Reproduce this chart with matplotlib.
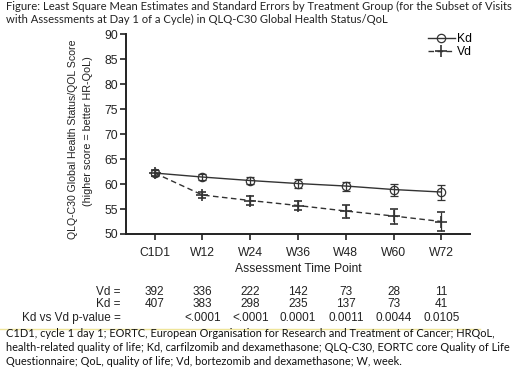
import matplotlib
matplotlib.use("Agg")
import matplotlib.pyplot as plt
from matplotlib.lines import Line2D
import numpy as np

# data
timepoints = ["C1D1", "W12", "W24", "W36", "W48", "W60", "W72"]
kd_mean = [62.2, 61.4, 60.7, 60.1, 59.6, 58.9, 58.4]
kd_se = [0.6, 0.65, 0.75, 0.85, 0.9, 1.2, 1.5]
vd_mean = [62.2, 57.8, 56.7, 55.7, 54.6, 53.6, 52.5]
vd_se = [0.6, 0.6, 0.9, 0.95, 1.3, 1.5, 1.9]
vd_n = ["392", "336", "222", "142", "73", "28", "11"]
kd_n = ["407", "383", "298", "235", "137", "73", "41"]
pvals = ["", "<.0001", "<.0001", "0.0001", "0.0011", "0.0044", "0.0105"]

title = ("Figure: Least Square Mean Estimates and Standard Errors by Treatment Group (for the Subset of Visits\n"
         "with Assessments at Day 1 of a Cycle) in QLQ-C30 Global Health Status/QoL")
footnote = ("C1D1, cycle 1 day 1; EORTC, European Organisation for Research and Treatment of Cancer; HRQoL,\n"
            "health-related quality of life; Kd, carfilzomib and dexamethasone; QLQ-C30, EORTC core Quality of Life\n"
            "Questionnaire; QoL, quality of life; Vd, bortezomib and dexamethasone; W, week.")
ylab1 = "QLQ-C30 Global Health Status/QOL Score"
ylab2 = "(higher score = better HR-QoL)"

plt.rcParams['font.family'] = ['Liberation Sans', 'DejaVu Sans']
col = "#333333"
txt = "#222222"
W, H = 520, 375

fig = plt.figure(figsize=(5.2, 3.75), dpi=100)
ax = fig.add_axes([0.2423, 0.376, 0.6615, 0.533])
x = np.arange(len(timepoints))

kd_style = dict(color=col, lw=1.0, ls='-', marker='o', ms=6, mfc='none', mec=col, mew=0.9)
vd_style = dict(color=col, lw=1.0, ls=(0, (4, 2.5)), marker='+', ms=9, mew=1.2)
ax.errorbar(x, kd_mean, yerr=kd_se, capsize=3, elinewidth=0.9, capthick=0.9, **kd_style)
ax.errorbar(x, vd_mean, yerr=vd_se, capsize=3, elinewidth=0.9, capthick=0.9, **vd_style)

ax.set_xlim(-0.6, 6.6)
ax.set_ylim(50, 90)
ax.set_yticks(range(50, 91, 5))
ax.set_xticks(x)
ax.set_xticklabels(timepoints)
for s in ["top", "right"]:
    ax.spines[s].set_visible(False)
for s in ["left", "bottom"]:
    ax.spines[s].set_linewidth(1.4)
    ax.spines[s].set_color(txt)
ax.tick_params(axis='both', direction='out', length=4, width=1.2, labelsize=8.7, colors=txt, pad=2)
ax.tick_params(axis='x', pad=5)
ax.set_xlabel("Assessment Time Point", fontsize=8.7, color=txt, labelpad=3)

handles = [Line2D([], [], **kd_style), Line2D([], [], **vd_style)]
ax.legend(handles, ["Kd", "Vd"], loc='upper right', bbox_to_anchor=(1.02, 1.03), frameon=False,
          fontsize=8.7, handlelength=2.2, handletextpad=0.2, labelspacing=0.1, borderaxespad=0)

# y label as two rotated lines, sized to the reference's span
renderer = fig.canvas.get_renderer()
for s, cx, cy, span in [(ylab1, 73, 139, 198), (ylab2, 88, 131, 148)]:
    t = fig.text(cx / W, 1 - cy / H, s, rotation=90, ha='center', va='center', fontsize=8.5, color=txt)
    h = t.get_window_extent(renderer).height
    t.set_fontsize(8.5 * span / h)

# at-risk table under the axis
rows = [("Vd =", vd_n, 292), ("Kd =", kd_n, 304), ("Kd vs Vd p-value =", pvals, 318)]
for label, vals, ypix in rows:
    fy = 1 - ypix / H
    fig.text(121 / W, fy, label, ha='right', va='center', fontsize=8.5, color=txt)
    for i, v in enumerate(vals):
        xd = ax.transData.transform((i, 0))[0]
        fx = fig.transFigure.inverted().transform((xd, 0))[0]
        fig.text(fx, fy, v, ha='center', va='center', fontsize=8.5, color=txt)

fig.add_artist(Line2D([0, 480 / W], [1 - 329 / H] * 2, color="#efe59a", lw=1.0,
                      transform=fig.transFigure))

fig.text(0.012, 1 - 1 / H, title, ha='left', va='top', fontsize=8.15, family=['Lato', 'DejaVu Sans'],
         color=txt, linespacing=1.25)
fig.text(0.012, 1 - 328 / H, footnote, ha='left', va='top', fontsize=7.95, family=['Lato', 'DejaVu Sans'],
         color="#111111", linespacing=1.35)

fig.savefig("out.png", dpi=100)
